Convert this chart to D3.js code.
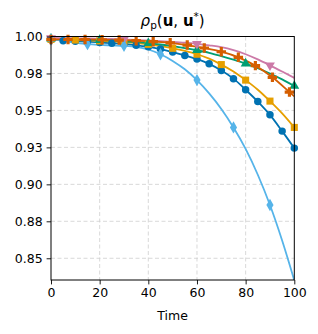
<!DOCTYPE html>
<html>
<head>
<meta charset="utf-8">
<script src="https://cdn.jsdelivr.net/npm/d3@7"></script>
<style>
body { margin: 0; background: #fff; }
svg { font-family: "DejaVu Sans", sans-serif; }
</style>
</head>
<body>
<div class="chart"></div>
<script>
// time samples
const times5 = d3.range(0, 101, 5);
const times7 = [0, 7, 14, 21, 28, 35, 42, 49, 56, 63, 70, 77, 84, 91, 98, 100];

// series values
const blueVals = [0.998, 0.9972, 0.9968, 0.9965, 0.996, 0.9955, 0.995, 0.994, 0.993, 0.9915, 0.9895,
                  0.9872, 0.9847, 0.9815, 0.977, 0.9715, 0.964, 0.956, 0.947, 0.936, 0.9245];
const orangeVals = [0.998, 0.9978, 0.9976, 0.9973, 0.997, 0.9966, 0.9962, 0.9955, 0.9947, 0.9935, 0.992,
                    0.9902, 0.988, 0.985, 0.981, 0.9763, 0.9705, 0.964, 0.9563, 0.948, 0.9385];
const greenVals = [0.9985, 0.9983, 0.9981, 0.9979, 0.9976, 0.9972, 0.9968, 0.9962, 0.9955, 0.9946, 0.9935,
                   0.9922, 0.9907, 0.989, 0.9868, 0.9844, 0.9817, 0.9785, 0.975, 0.971, 0.9665];
const pinkVals = [0.999, 0.9989, 0.9988, 0.9987, 0.9985, 0.9983, 0.998, 0.9977, 0.9973, 0.9969, 0.9964,
                  0.9958, 0.995, 0.994, 0.9928, 0.9908, 0.988, 0.9845, 0.9805, 0.9763, 0.972];
const skyVals = [0.998, 0.997, 0.9958, 0.9948, 0.9943, 0.994, 0.9937, 0.993, 0.9912, 0.988, 0.9835,
                 0.9778, 0.9705, 0.9615, 0.951, 0.9385, 0.924, 0.9065, 0.886, 0.862, 0.835];
const vermVals = [0.998, 0.998, 0.998, 0.9978, 0.9976, 0.9972, 0.9965, 0.9957, 0.9942, 0.9922,
                  0.9897, 0.9859, 0.9803, 0.9724, 0.9624, 0.9595];

const xTicks = [0, 20, 40, 60, 80, 100];
const yTicks = [0.85, 0.875, 0.9, 0.925, 0.95, 0.975, 1.0];
const yTickLabels = ["0.85", "0.88", "0.90", "0.93", "0.95", "0.98", "1.00"];

const series = [
    {t: times5, v: blueVals, color: "#0072B2", sym: d3.symbolCircle, size: 44, every: 1, last: true},
    {t: times5, v: orangeVals, color: "#E69F00", sym: d3.symbolSquare, size: 50, every: 2, last: true},
    {t: times5, v: greenVals, color: "#009E73", sym: d3.symbolTriangle, size: 42, every: 4, last: true},
    {t: times5, v: pinkVals, color: "#CC79A7", sym: d3.symbolTriangle, size: 42, every: 6, last: false, flip: true},
    {t: times5, v: skyVals, color: "#56B4E9", sym: d3.symbolDiamond, size: 44, every: 3, last: false},
    {t: times7, v: vermVals, color: "#D55E00", sym: d3.symbolCross, size: 50, every: 1, last: false}
];

const margin = {top: 36.5, right: 23.7, bottom: 54, left: 51};
const W = 318, H = 334;
const width = W - margin.left - margin.right;
const height = H - margin.top - margin.bottom;

const svg = d3.select(".chart").append("svg")
    .attr("width", W).attr("height", H);

const g = svg.append("g")
    .attr("transform", `translate(${margin.left},${margin.top})`);

const x = d3.scaleLinear().domain([0, 100]).range([0, width]);
const y = d3.scaleLinear().domain([0.8353, 1.0]).range([height, 0]);

// grid
g.append("g").selectAll("line").data(xTicks.slice(1, -1)).enter().append("line")
    .attr("x1", d => x(d)).attr("x2", d => x(d))
    .attr("y1", 0).attr("y2", height)
    .attr("stroke", "#cfcfcf").attr("stroke-width", 0.8).attr("stroke-dasharray", "4,2.5");
g.append("g").selectAll("line").data(yTicks.slice(0, -1)).enter().append("line")
    .attr("x1", 0).attr("x2", width)
    .attr("y1", d => y(d)).attr("y2", d => y(d))
    .attr("stroke", "#cfcfcf").attr("stroke-width", 0.8).attr("stroke-dasharray", "4,2.5");

svg.append("defs").append("clipPath").attr("id", "clip")
    .append("rect").attr("width", width).attr("height", height);

const plot = g.append("g").attr("clip-path", "url(#clip)");

const line = d3.line()
    .x(d => x(d[0]))
    .y(d => y(d[1]))
    .curve(d3.curveMonotoneX);

series.forEach(s => {
    const pts = s.t.map((t, i) => [t, s.v[i]]);
    plot.append("path")
        .datum(pts)
        .attr("fill", "none")
        .attr("stroke", s.color)
        .attr("stroke-width", 1.8)
        .attr("d", line);
    const marks = pts.filter((p, i) => i % s.every == 0 && (s.last || i < pts.length - 1));
    g.append("g").selectAll("path").data(marks).enter().append("path")
        .attr("d", d3.symbol().type(s.sym).size(s.size))
        .attr("transform", d => `translate(${x(d[0])},${y(d[1])})` + (s.flip ? " rotate(180)" : ""))
        .attr("fill", s.color);
});

// axes
const xAxis = d3.axisBottom(x).tickValues(xTicks).tickSize(4.4).tickPadding(4);
const yAxis = d3.axisLeft(y).tickValues(yTicks).tickSize(4.4).tickPadding(4)
    .tickFormat((d, i) => yTickLabels[i]);

g.append("g").attr("class", "x-axis")
    .attr("transform", `translate(0,${height})`)
    .call(xAxis);
g.append("g").attr("class", "y-axis").call(yAxis);

g.selectAll(".domain").remove();
g.selectAll(".tick text").attr("font-size", 12.5).attr("fill", "#000")
    .attr("font-family", "DejaVu Sans");
g.selectAll(".tick line").attr("stroke", "#000").attr("stroke-width", 0.9);

g.append("rect")
    .attr("width", width).attr("height", height)
    .attr("fill", "none").attr("stroke", "#000").attr("stroke-width", 1);

// labels
svg.append("text")
    .attr("x", margin.left + width / 2).attr("y", 319.5)
    .attr("text-anchor", "middle").attr("font-size", 12.5)
    .text("Time");

const title = svg.append("text")
    .attr("x", margin.left + width / 2).attr("y", 26)
    .attr("text-anchor", "middle").attr("font-size", 15);
title.append("tspan").attr("font-style", "italic").text("ρ");
title.append("tspan").attr("font-size", 10.5).attr("dy", 3).text("p");
title.append("tspan").attr("dy", -3).text("(");
title.append("tspan").attr("font-weight", "bold").text("u");
title.append("tspan").text(", ");
title.append("tspan").attr("font-weight", "bold").text("u");
title.append("tspan").attr("font-size", 10.5).attr("dy", -6).text("*");
title.append("tspan").attr("dy", 6).text(")");
</script>
</body>
</html>
